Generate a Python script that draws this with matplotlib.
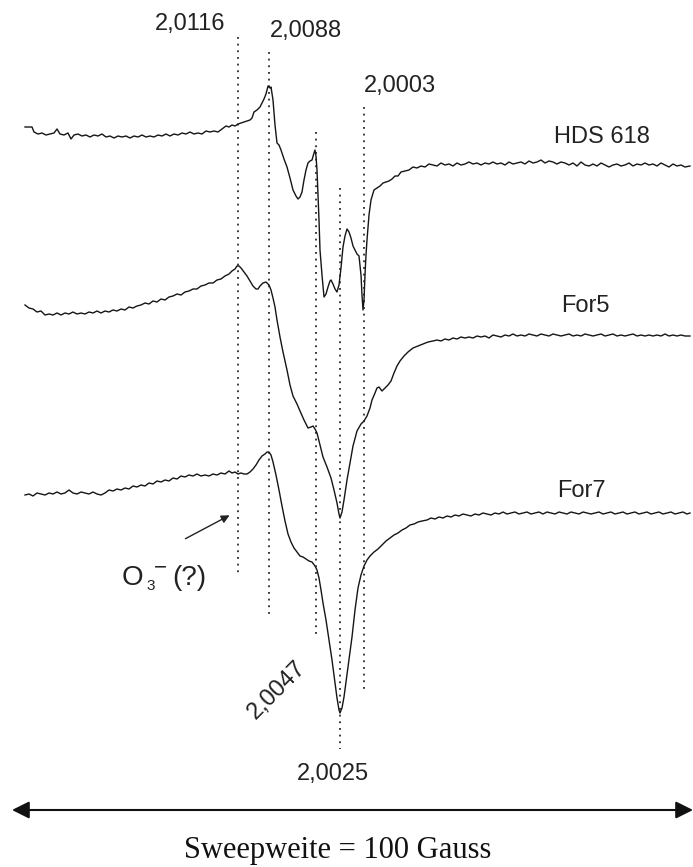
import numpy as np
import matplotlib.pyplot as plt

# EPR spectra, x = field position across the sweep, y = drawing height (down is larger)
hds618 = [(25,127),(32,127),(34,132),(38,134),(42,133),(46,135),(50,134),(54,133),(57,129),(60,134),
          (64,135),(68,133),(71,139),(74,135),(78,134),(82,136),(86,135),(90,137),(94,135),(98,136),
          (102,134),(106,137),(110,136),(114,138),(118,136),(122,137),(126,136),(130,138),(134,136),(138,137),
          (142,135),(146,137),(150,136),(154,137),(158,135),(162,136),(166,134),(170,136),(174,134),(178,135),
          (182,133),(186,134),(190,132),(194,134),(198,133),(202,134),(206,131),(210,132),(214,131),(218,132),
          (222,129),(226,126),(229,127),(232,125),(235,126),(238,124),(241,123),(244,122),(247,121),(250,120),
          (252,118),(254,112),(257,110),(260,107),(262,103),(264,99),(266,94),(268,86),(270,88),(271,87),
          (273,100),(275,125),(277,143),(279,145),(281,150),(284,159),(287,167),(290,178),(293,190),(296,196),
          (298,199),(300,197),(302,192),(304,180),(306,170),(308,163),(310,161),(312,160),(314,153),(315,150),
          (316,156),(317,170),(318,195),(319,220),(320,250),(322,275),(324,297),(326,294),(328,287),(330,281),
          (331,280),(333,284),(335,289),(337,292),(339,285),(341,268),(343,247),(345,236),(347,229),(349,232),
          (351,238),(353,246),(355,250),(357,254),(359,256),(361,275),(362,295),(363,310),(364,300),(365,275),
          (366,255),(367,240),(369,215),(371,200),(374,190),(377,188),(380,186),(383,183),(386,182),(389,181),
          (392,179),(395,176),(398,176),(401,172),(405,171),(409,170),(413,167),(417,168),(421,166),(425,167),
          (429,164),(433,165),(437,166),(441,163),(445,165),(449,164),(453,166),(457,163),(461,165),(465,164),
          (469,162),(473,164),(477,163),(481,165),(485,163),(489,164),(493,162),(497,164),(501,163),(505,165),
          (509,162),(513,164),(517,163),(521,162),(525,164),(529,161),(533,163),(537,162),(541,160),(545,163),
          (549,161),(553,162),(557,164),(561,162),(565,163),(569,165),(573,163),(577,166),(581,162),(585,165),
          (589,166),(593,164),(597,166),(601,163),(605,165),(609,167),(613,165),(617,164),(621,166),(625,165),
          (629,163),(633,166),(637,164),(641,165),(645,163),(649,165),(653,164),(657,166),(661,163),(665,165),
          (669,167),(673,164),(677,166),(681,165),(685,167),(690,166)]

for5 = [(25,305),(29,308),(33,309),(37,312),(41,311),(45,315),(49,314),(53,315),(57,313),(61,315),
        (65,313),(69,314),(73,312),(77,314),(81,313),(85,314),(89,312),(93,313),(97,311),(101,313),
        (105,311),(109,312),(113,310),(117,311),(121,309),(125,310),(129,307),(133,308),(137,306),(141,305),
        (145,303),(149,304),(153,301),(157,302),(161,299),(165,300),(169,297),(173,296),(177,294),(181,295),
        (185,292),(189,291),(193,289),(197,289),(201,286),(205,285),(209,283),(213,283),(217,280),(221,279),
        (225,276),(229,274),(232,271),(235,269),(237,266),(239,266),(241,268),(244,272),(247,276),(250,281),
        (253,286),(256,289),(258,289),(260,286),(263,283),(266,282),(269,285),(271,290),(273,298),(275,307),
        (277,320),(280,337),(283,352),(287,370),(290,385),(293,396),(297,404),(300,411),(304,420),(308,428),
        (311,427),(313,426),(315,429),(317,433),(320,445),(323,457),(327,467),(331,478),(334,490),(337,503),
        (339,514),(340,518),(342,512),(344,500),(347,480),(350,463),(353,446),(357,431),(361,424),(364,421),
        (367,416),(370,408),(372,400),(375,393),(377,388),(379,387),(382,391),(385,388),(388,385),(391,381),
        (394,373),(397,366),(400,361),(404,356),(408,352),(413,348),(418,346),(423,344),(428,342),(433,341),
        (437,340),(441,341),(445,339),(449,340),(453,338),(457,339),(461,337),(465,338),(469,337),(473,338),
        (477,336),(481,337),(485,336),(489,338),(493,335),(497,336),(501,337),(505,335),(509,336),(513,334),
        (517,336),(521,335),(525,336),(529,334),(533,335),(537,336),(541,334),(545,335),(549,336),(553,334),
        (557,335),(561,336),(565,335),(569,334),(573,336),(577,335),(581,336),(585,334),(589,335),(593,336),
        (597,335),(601,334),(605,336),(609,335),(613,334),(617,336),(621,335),(625,336),(629,335),(633,334),
        (637,336),(641,335),(645,336),(649,335),(653,336),(657,335),(661,336),(665,334),(669,336),(673,335),
        (677,336),(681,335),(685,336),(690,336)]

for7 = [(25,495),(29,494),(33,496),(37,493),(41,494),(45,495),(49,493),(53,494),(57,492),(61,494),
        (65,493),(69,490),(73,493),(77,494),(81,492),(85,493),(89,494),(93,492),(97,494),(101,495),
        (105,493),(109,490),(113,491),(117,489),(121,490),(125,488),(129,489),(133,486),(137,487),(141,485),
        (145,486),(149,483),(153,484),(157,481),(161,482),(165,480),(169,481),(173,478),(177,479),(181,476),
        (185,477),(189,475),(193,476),(197,474),(201,476),(205,475),(209,476),(213,474),(217,475),(221,473),
        (225,474),(229,471),(232,473),(235,472),(238,474),(241,473),(244,474),(247,474),(250,472),(253,469),
        (256,465),(259,460),(262,456),(265,454),(267,452),(269,452),(271,455),(273,462),(276,475),(279,490),
        (282,506),(285,521),(288,534),(291,542),(294,548),(297,552),(300,556),(303,557),(306,559),(309,561),
        (312,562),(315,566),(317,570),(319,578),(321,590),(323,603),(326,620),(329,640),(332,660),(335,683),
        (337,698),(339,710),(340,713),(342,708),(344,697),(346,682),(349,660),(352,637),(355,610),(358,588),
        (361,575),(364,566),(367,560),(370,556),(374,552),(378,549),(382,545),(386,541),(390,538),(394,535),
        (398,533),(402,530),(406,528),(410,525),(414,524),(418,522),(422,521),(427,520),(431,518),(435,519),
        (439,517),(443,518),(447,516),(451,517),(455,515),(459,516),(463,514),(467,515),(471,516),(475,514),
        (479,515),(483,513),(487,514),(491,515),(495,513),(499,514),(503,512),(507,514),(511,513),(515,512),
        (519,514),(523,513),(527,512),(531,514),(535,513),(539,512),(543,514),(547,512),(551,513),(555,514),
        (559,512),(563,513),(567,514),(571,512),(575,513),(579,514),(583,512),(587,513),(591,514),(595,513),
        (599,512),(603,514),(607,513),(611,512),(615,514),(619,513),(623,512),(627,514),(631,513),(635,512),
        (639,514),(643,513),(647,512),(651,514),(655,513),(659,512),(663,514),(667,513),(671,512),(675,514),
        (679,513),(683,512),(687,514),(690,513)]

# g-value markers
g_labels = ["2,0116", "2,0088", "2,0047", "2,0025", "2,0003"]
g_pos = [238, 269, 316, 340, 364]
g_top = [37, 52, 132, 188, 107]
g_bottom = [575, 615, 634, 749, 692]

sample_names = ["HDS 618", "For5", "For7"]

plt.rcParams['font.family'] = ['Liberation Sans', 'DejaVu Sans']

fig = plt.figure(figsize=(6.93, 8.67), dpi=100)
ax = fig.add_axes([0, 0, 1, 1])
ax.set_xlim(0, 693)
ax.set_ylim(867, 0)
ax.axis('off')

for trace in (hds618, for5, for7):
    xy = np.array(trace)
    ax.plot(xy[:, 0], xy[:, 1], color='#151515', lw=1.0, solid_joinstyle='round')

for x, y0, y1 in zip(g_pos, g_top, g_bottom):
    ax.plot([x, x], [y0, y1], color='#1a1a1a', lw=1.2, linestyle=(0, (1.1, 2.9)))

# g-value labels
fs = 17
ax.text(190, 30, g_labels[0], fontsize=fs, ha='center', va='baseline', color='#222222')
ax.text(306, 37, g_labels[1], fontsize=fs, ha='center', va='baseline', color='#222222')
ax.text(400, 92, g_labels[4], fontsize=fs, ha='center', va='baseline', color='#222222')
ax.text(333, 780, g_labels[3], fontsize=fs, ha='center', va='baseline', color='#222222')
ax.text(277, 690, g_labels[2], fontsize=fs, ha='center', va='center', rotation=45,
        rotation_mode='anchor', color='#222222')

# sample names
ax.text(602, 143, sample_names[0], fontsize=fs, ha='center', va='baseline', color='#222222')
ax.text(585, 312, sample_names[1], fontsize=fs, ha='center', va='baseline', color='#222222')
ax.text(581, 497, sample_names[2], fontsize=fs, ha='center', va='baseline', color='#222222')

# ozonide annotation
ax.annotate('', xy=(232, 514), xytext=(183, 540),
            arrowprops=dict(arrowstyle='-|>', color='#222222', lw=1.0, mutation_scale=12))
ax.text(122, 585, 'O', fontsize=20, ha='left', va='baseline', color='#222222')
ax.text(146, 590, '3', fontsize=11, ha='left', va='baseline', color='#222222')
ax.text(154, 573, '\u2212', fontsize=16, ha='left', va='baseline', color='#222222')
ax.text(172, 585, '(?)', fontsize=20, ha='left', va='baseline', color='#222222')

# sweep width arrow
ax.annotate('', xy=(693, 810), xytext=(12, 810),
            arrowprops=dict(arrowstyle='<|-|>', color='#111111', lw=1.5,
                            mutation_scale=26, shrinkA=0, shrinkB=0))
ax.text(338, 858, 'Sweepweite = 100 Gauss', fontsize=22, ha='center', va='baseline',
        family=['Liberation Serif', 'DejaVu Serif'], color='#111111')

fig.savefig('out.png', dpi=100)
